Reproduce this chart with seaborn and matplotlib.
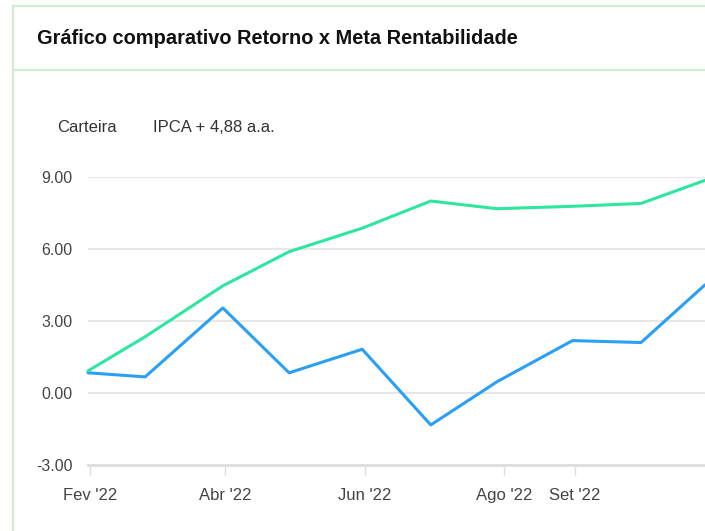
import matplotlib
matplotlib.use("Agg")
import matplotlib.pyplot as plt
from matplotlib.lines import Line2D
import seaborn as sns
import pandas as pd

# ---- data ----
dates = ["2022-01-31", "2022-02-25", "2022-03-31", "2022-04-29", "2022-05-31",
         "2022-06-30", "2022-07-29", "2022-08-31", "2022-09-30", "2022-10-28"]
carteira = [0.85, 0.68, 3.55, 0.85, 1.83, -1.32, 0.48, 2.19, 2.11, 4.51]
ipca = [0.93, 2.35, 4.47, 5.89, 6.87, 8.00, 7.68, 7.78, 7.90, 8.86]
series_names = ["Carteira", "IPCA + 4,88 a.a."]
tick_dates = ["2022-02-01", "2022-04-01", "2022-06-01", "2022-08-01", "2022-09-01"]
tick_labels = ["Fev '22", "Abr '22", "Jun '22", "Ago '22", "Set '22"]
y_ticks = [-3, 0, 3, 6, 9]
title = "Gráfico comparativo Retorno x Meta Rentabilidade"

df = pd.DataFrame({
    "data": pd.to_datetime(dates * 2),
    "valor": carteira + ipca,
    "serie": [series_names[0]] * len(dates) + [series_names[1]] * len(dates),
})

sns.set_theme(style="white")
plt.rcParams['font.family'] = ['Liberation Sans', 'DejaVu Sans']

W, H = 705, 531
fig = plt.figure(figsize=(W / 100, H / 100), dpi=100)

# axes placement (pixel-based)
x0, x1 = 88, 705
y_top, y_bot = 177, 465.3
ax = fig.add_axes([x0 / W, (H - y_bot) / H, (x1 - x0) / W, (y_bot - y_top) / H])

palette = {series_names[0]: "#2b9ff3", series_names[1]: "#2ee6a0"}
sns.lineplot(data=df, x="data", y="valor", hue="serie", palette=palette,
             linewidth=2.2, ax=ax, legend=False, clip_on=False)

ax.set_xlim(pd.Timestamp("2022-01-31"), pd.Timestamp("2022-10-28"))
ax.set_ylim(-3, 9)
ax.set_yticks(y_ticks)
ax.set_yticklabels([f"{v:.2f}" for v in y_ticks], fontsize=11.5, color="#444444")
ax.set_xticks(pd.to_datetime(tick_dates))
ax.set_xticklabels(tick_labels, fontsize=12, color="#444444")
ax.set_xlabel("")
ax.set_ylabel("")

for v in y_ticks[1:]:
    ax.axhline(v, color="#e3e3e3", linewidth=1.2, zorder=0)

for s in ["top", "right", "left"]:
    ax.spines[s].set_visible(False)
ax.spines["bottom"].set_color("#dddddd")
ax.spines["bottom"].set_linewidth(2)
ax.tick_params(axis="x", which="both", bottom=True, length=7, width=1, color="#dddddd", pad=9)
ax.tick_params(axis="y", which="both", left=False, length=0, pad=11)
ax.grid(False)
ax.set_facecolor("none")

# card border
border = "#d3ead3"
def px_line(xa, ya, xb, yb):
    fig.add_artist(Line2D([xa / W, xb / W], [1 - ya / H, 1 - yb / H],
                          color=border, linewidth=1.6, transform=fig.transFigure))
px_line(13, 5.5, 705, 5.5)
px_line(13, 70.5, 705, 70.5)
px_line(13, 5.5, 13, 531)

# title
fig.text(37 / W, 1 - 39 / H, title, fontsize=14.4, fontweight="bold",
         color="#111111", va="center", ha="left")

# legend texts
fig.text(57 / W, 1 - 128 / H, series_names[0], fontsize=12, color="#333333",
         va="center", ha="left")
fig.text(153 / W, 1 - 128 / H, series_names[1], fontsize=12, color="#333333",
         va="center", ha="left")

fig.savefig("out.png", dpi=100)
